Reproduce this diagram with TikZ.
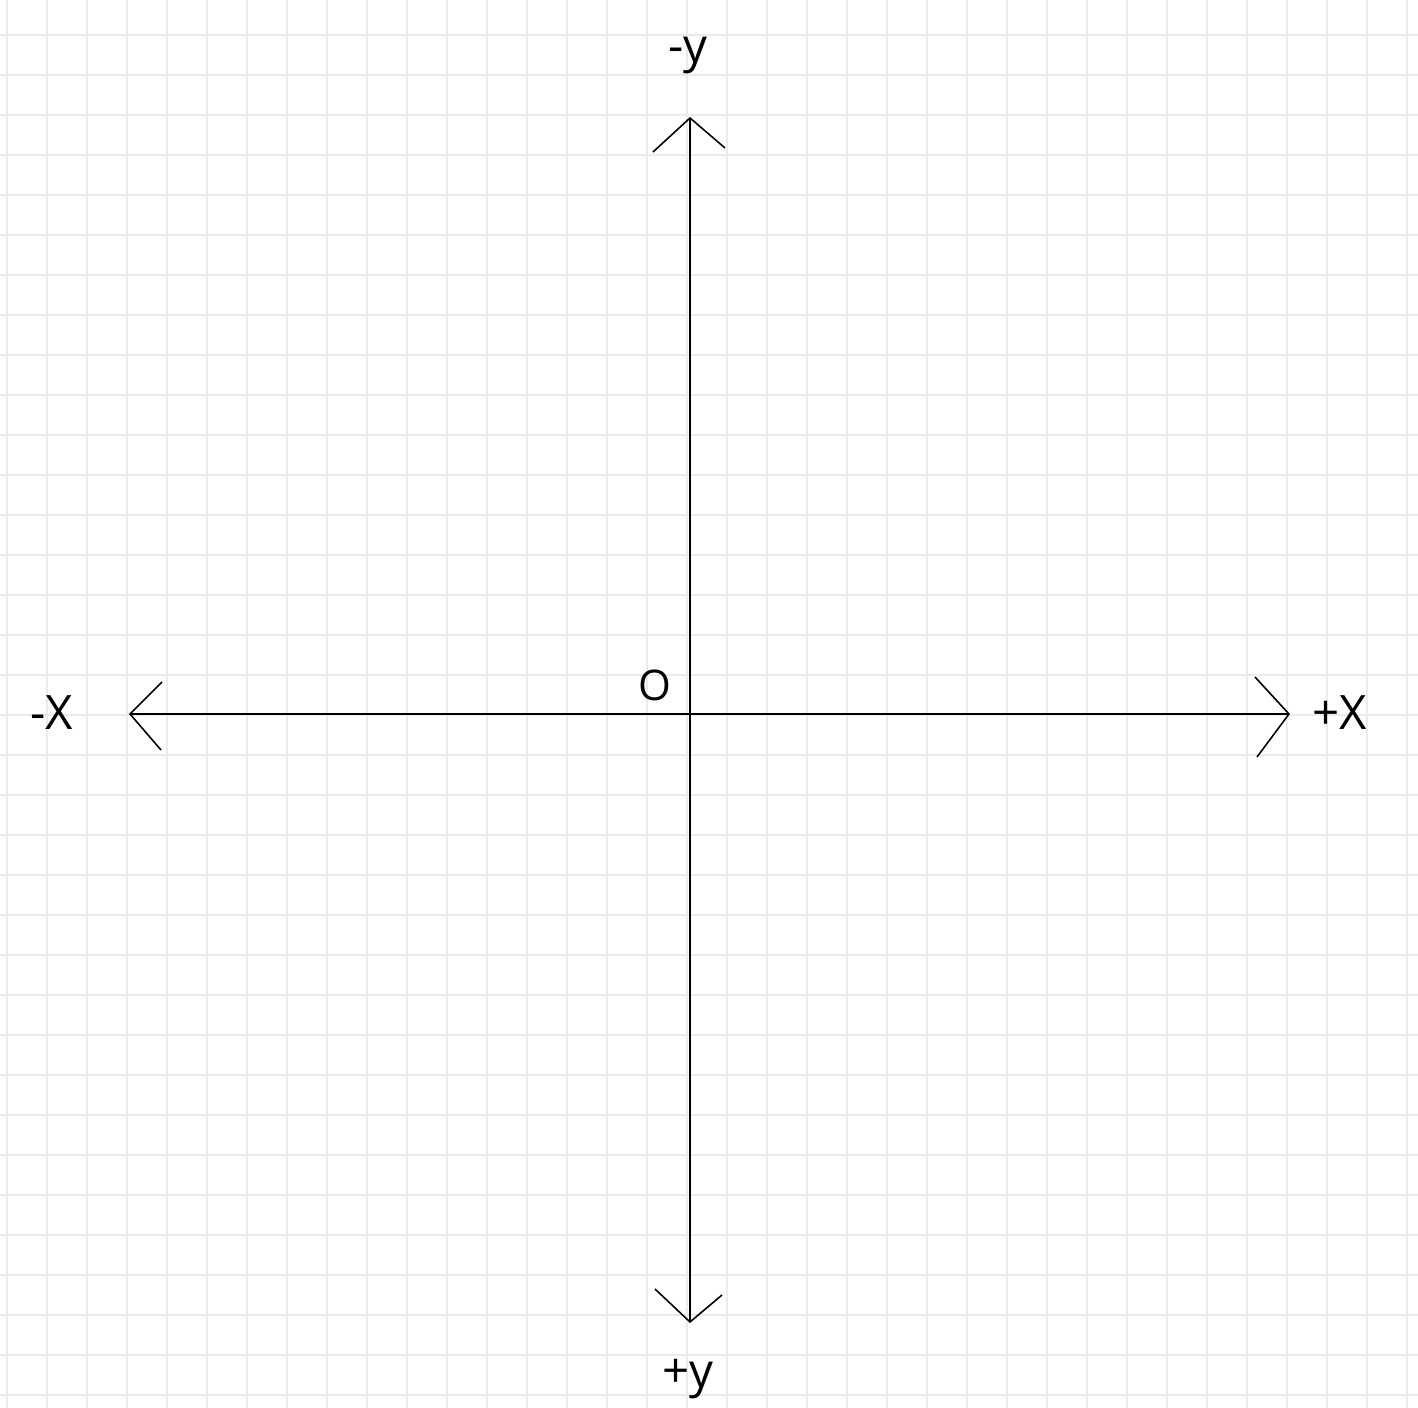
\documentclass[tikz,border=0pt]{standalone}
\usepackage{fontspec}
\setmainfont{Open Sans}
\usetikzlibrary{positioning}
\tikzset{
    gridline/.style={draw=black!8, line width=0.9pt},
    axisline/.style={draw=black, line width=1.1pt},
    tipline/.style={draw=black, line width=0.9pt},
    axislabel/.style={inner sep=0pt, font=\fontsize{27}{32}\selectfont},
    originlabel/.style={inner sep=0pt, font=\fontsize{24}{28}\selectfont}
}
\begin{document}
\begin{tikzpicture}[x=0.02cm, y=-0.02cm]
  \fill[white] (0,0) rectangle (1418,1408);
  \useasboundingbox (0,0) rectangle (1418,1408);
  % grid paper
  \foreach \gx in {7,47,...,1407} \draw[gridline] (\gx,0) -- (\gx,1408);
  \foreach \gy in {35,75,...,1395} \draw[gridline] (0,\gy) -- (1418,\gy);
  % axis ends
  \coordinate (xleft) at (130,714);
  \coordinate (xright) at (1289,714);
  \coordinate (ytop) at (690,118);
  \coordinate (ybottom) at (690,1322);
  \draw[axisline] (xleft) -- (xright);
  \draw[axisline] (ytop) -- (ybottom);
  % open arrow tips
  \draw[tipline] (1255,677) -- (xright) -- (1257,757);
  \draw[tipline] (162,682) -- (xleft) -- (161,750);
  \draw[tipline] (653,152) -- (ytop) -- (725,148);
  \draw[tipline] (655,1289) -- (ybottom) -- (722,1295);
  % labels
  \node[axislabel] (negy) at (688,56) {-y};
  \node[axislabel] (posy) at (688,1379) {+y};
  \node[axislabel] (negx) at (52,713) {-X};
  \node[axislabel] (posx) at (1340,713) {+X};
  \node[originlabel] (origin) at (655,685) {O};
\end{tikzpicture}
\end{document}
